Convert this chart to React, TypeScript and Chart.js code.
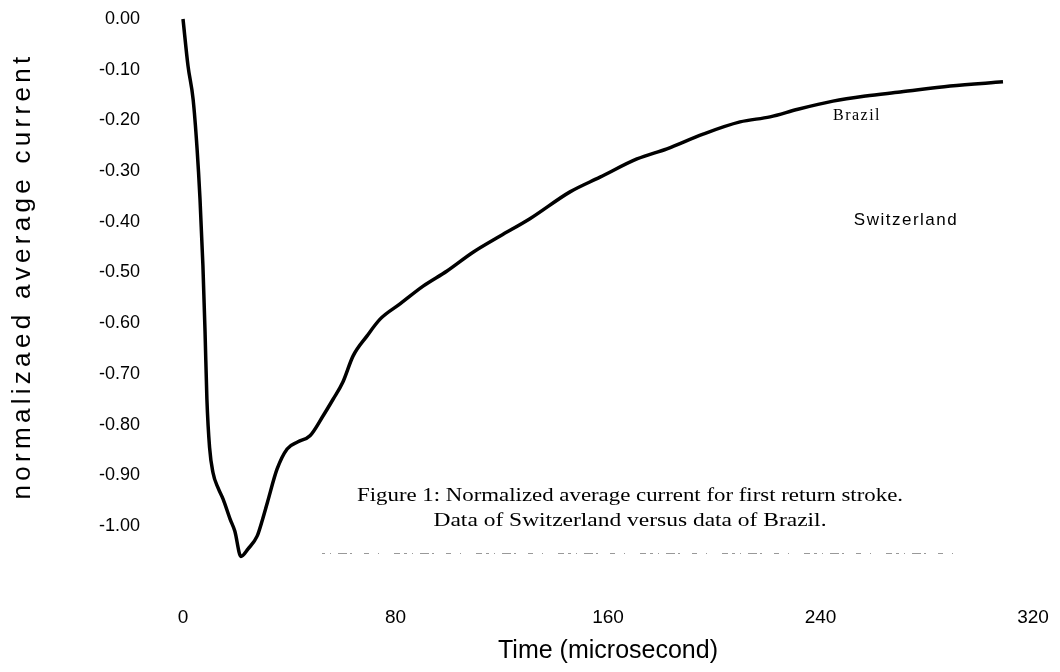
import React, { useEffect, useRef } from "react";
import { Chart, registerables } from "chart.js";

Chart.register(...registerables);

// ---- data ----
const timeUs = [
  0, 1.9, 3.8, 5.3, 6.4, 7.5, 8.3, 9.0, 10.0, 11.3, 13.2, 15.1, 17.7, 19.5, 21.8,
  24.5, 27.9, 30.0, 31.8, 35.4, 39.2, 43.3, 47.8, 52.7, 56.5, 60.2, 64.0, 69.3,
  74.2, 81.7, 90.4, 99.4, 109.2, 119.4, 130.6, 145.7, 157.0, 170.9, 182.2, 195.8,
  209.7, 221.0, 231.5, 244.7, 257.0, 270.0, 288.8, 308.7,
];
const currentBrazil = [
  0, -0.093, -0.158, -0.256, -0.355, -0.487, -0.617, -0.75, -0.845, -0.895, -0.925,
  -0.947, -0.986, -1.01, -1.06, -1.045, -1.02, -0.986, -0.953, -0.888, -0.848,
  -0.834, -0.822, -0.783, -0.75, -0.716, -0.665, -0.625, -0.592, -0.562, -0.527,
  -0.497, -0.46, -0.428, -0.394, -0.341, -0.312, -0.276, -0.256, -0.227, -0.203,
  -0.193, -0.178, -0.162, -0.152, -0.144, -0.132, -0.124,
];
const xTickValues = [0, 80, 160, 240, 320];
const yTickValues = [0, -0.1, -0.2, -0.3, -0.4, -0.5, -0.6, -0.7, -0.8, -0.9, -1.0];
const seriesLabels = ["Brazil", "Switzerland"];
const captionLines = [
  "Figure 1: Normalized average current for first return stroke.",
  "Data of Switzerland versus data of Brazil.",
];
const xTitle = "Time (microsecond)";
const yTitle = "normalizaed average current";

const annotate = {
  id: "annotate",
  afterDraw(chart: any) {
    const ctx = chart.ctx as CanvasRenderingContext2D;
    ctx.save();
    ctx.fillStyle = "#000";
    ctx.textBaseline = "middle";

    // y axis title (letter spaced)
    ctx.save();
    (ctx as any).letterSpacing = "4.3px";
    ctx.font = "26px 'Liberation Sans', Arial, sans-serif";
    ctx.textAlign = "center";
    ctx.translate(23, 276);
    ctx.rotate(-Math.PI / 2);
    ctx.fillText(yTitle, 0, 0);
    ctx.restore();

    // series labels
    ctx.save();
    (ctx as any).letterSpacing = "1.5px";
    ctx.textAlign = "center";
    ctx.font = "16px 'Liberation Serif', 'Times New Roman', serif";
    ctx.fillText(seriesLabels[0], 857, 116);
    ctx.font = "17px 'Liberation Sans', Arial, sans-serif";
    ctx.fillText(seriesLabels[1], 906, 220);
    ctx.restore();

    // caption (condensed serif)
    const capTargets = [546, 393];
    const capY = [496, 521];
    ctx.font = "19px 'Liberation Serif', 'Times New Roman', serif";
    ctx.textAlign = "center";
    captionLines.forEach((line, i) => {
      const w = ctx.measureText(line).width;
      const s = capTargets[i] / w;
      ctx.save();
      ctx.translate(630, capY[i]);
      ctx.scale(s, 1);
      ctx.fillText(line, 0, 0);
      ctx.restore();
    });

    // faint scan speckle line
    ctx.strokeStyle = "rgba(0,0,0,0.4)";
    ctx.lineWidth = 1;
    ctx.setLineDash([3, 5, 1, 7, 9, 3, 2, 12, 5, 9, 1, 15, 6, 4]);
    ctx.beginPath();
    ctx.moveTo(322, 553.5);
    ctx.lineTo(960, 553.5);
    ctx.stroke();
    ctx.restore();
  },
};

export default function App() {
  const ref = useRef<HTMLCanvasElement>(null);
  useEffect(() => {
    if (!ref.current) return;
    const chart = new Chart(ref.current, {
      type: "line",
      data: {
        datasets: [
          {
            label: seriesLabels[0],
            data: timeUs.map((t, i) => ({ x: t, y: currentBrazil[i] })),
            borderColor: "#000",
            borderWidth: 3.5,
            pointRadius: 0,
            fill: false,
            cubicInterpolationMode: "monotone",
            clip: false as any,
          },
        ],
      },
      options: {
        responsive: false,
        animation: false,
        devicePixelRatio: 1,
        layout: { padding: { top: 19, right: 27, bottom: 0, left: 0 } },
        plugins: { legend: { display: false }, tooltip: { enabled: false } },
        scales: {
          x: {
            type: "linear",
            min: 0,
            max: 320,
            afterBuildTicks: (s: any) => {
              s.ticks = xTickValues.map((v) => ({ value: v }));
            },
            afterFit: (s: any) => {
              s.height = 146;
              s.paddingLeft = 0;
              s.paddingRight = 0;
            },
            grid: { display: false, drawTicks: false },
            border: { display: false },
            ticks: {
              padding: 80,
              color: "#000",
              font: { family: "'Liberation Sans', Arial, sans-serif", size: 19 },
              callback: (v: any) => String(v),
            },
            title: {
              display: true,
              text: xTitle,
              color: "#000",
              font: { family: "'Liberation Sans', Arial, sans-serif", size: 25 },
              padding: { top: 0, bottom: 6 },
            },
          },
          y: {
            type: "linear",
            min: -1,
            max: 0,
            afterBuildTicks: (s: any) => {
              s.ticks = yTickValues.map((v) => ({ value: v }));
            },
            afterFit: (s: any) => {
              s.width = 183;
              s.paddingTop = 0;
              s.paddingBottom = 0;
            },
            grid: { display: false, drawTicks: false },
            border: { display: false },
            ticks: {
              padding: 43,
              color: "#000",
              font: { family: "'Liberation Sans', Arial, sans-serif", size: 18 },
              callback: (v: any) => Number(v).toFixed(2),
            },
          },
        },
      },
      plugins: [annotate],
    });
    return () => chart.destroy();
  }, []);
  return (
    <div style={{ position: "absolute", left: 0, top: 0, width: 1060, height: 672, background: "#fff" }}>
      <canvas ref={ref} width={1060} height={672} style={{ display: "block" }} />
    </div>
  );
}
